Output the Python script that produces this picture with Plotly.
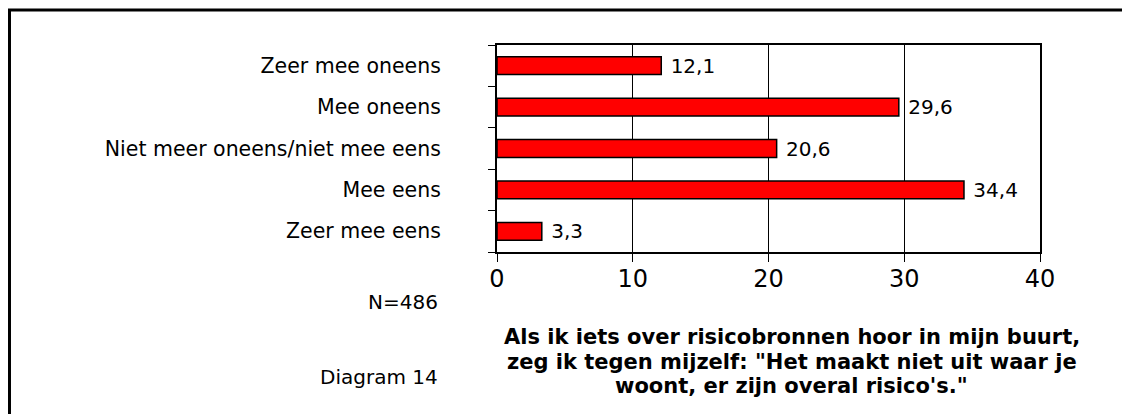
import plotly.graph_objects as go

categories = ["Zeer mee oneens", "Mee oneens", "Niet meer oneens/niet mee eens",
              "Mee eens", "Zeer mee eens"]
values = [12.1, 29.6, 20.6, 34.4, 3.3]
x_ticks = [0, 10, 20, 30, 40]
title_lines = [
    "Als ik iets over risicobronnen hoor in mijn buurt,",
    "zeg ik tegen mijzelf: \"Het maakt niet uit waar je",
    "woont, er zijn overal risico's.\"",
]

FONT = "DejaVu Sans"

fig = go.Figure(
    go.Bar(
        x=values,
        y=categories,
        orientation="h",
        width=0.43,
        marker=dict(color="#ff0000", line=dict(color="black", width=1.5)),
        text=[" " + f"{v:.1f}".replace(".", ",") for v in values],
        textposition="outside",
        constraintext="none",
        textfont=dict(family=FONT, size=20, color="black"),
        cliponaxis=False,
    )
)

fig.update_layout(
    width=1130,
    height=414,
    margin=dict(l=489, r=98, t=37, b=170),
    plot_bgcolor="white",
    paper_bgcolor="white",
    showlegend=False,
    font=dict(family=FONT, color="black"),
)

fig.update_xaxes(
    range=[0, 40],
    tickvals=x_ticks,
    ticks="outside",
    ticklen=8,
    tickcolor="black",
    tickfont=dict(size=24),
    ticklabelstandoff=-4,
    showgrid=True,
    gridcolor="black",
    gridwidth=1,
    showline=True,
    linecolor="black",
    linewidth=2,
    mirror=True,
    zeroline=False,
)

fig.update_yaxes(
    categoryorder="array",
    categoryarray=categories[::-1],
    ticks="outside",
    tickson="boundaries",
    ticklen=7,
    tickcolor="black",
    tickfont=dict(size=20.5),
    ticklabelstandoff=50,
    showline=True,
    linecolor="black",
    linewidth=2,
    mirror=True,
    showgrid=False,
)

# outer frame (left and top edges)
fig.add_shape(
    type="path",
    xref="paper", yref="paper",
    path="M -0.8978,-0.85 L -0.8978,1.169 L 1.2,1.169",
    line=dict(color="black", width=3),
)

fig.add_annotation(
    text="N=486", xref="paper", yref="paper", x=-0.105, y=-0.2415,
    xanchor="right", yanchor="middle", showarrow=False, font=dict(size=20),
)
fig.add_annotation(
    text="Diagram 14", xref="paper", yref="paper", x=-0.105, y=-0.604,
    xanchor="right", yanchor="middle", showarrow=False, font=dict(size=20),
)
for line, ypos in zip(title_lines, [-0.411, -0.531, -0.647]):
    fig.add_annotation(
        text=f"<b>{line}</b>", xref="paper", yref="paper", x=0.543, y=ypos,
        xanchor="center", yanchor="middle", showarrow=False,
        font=dict(size=21),
    )

fig.write_html("out.html")
